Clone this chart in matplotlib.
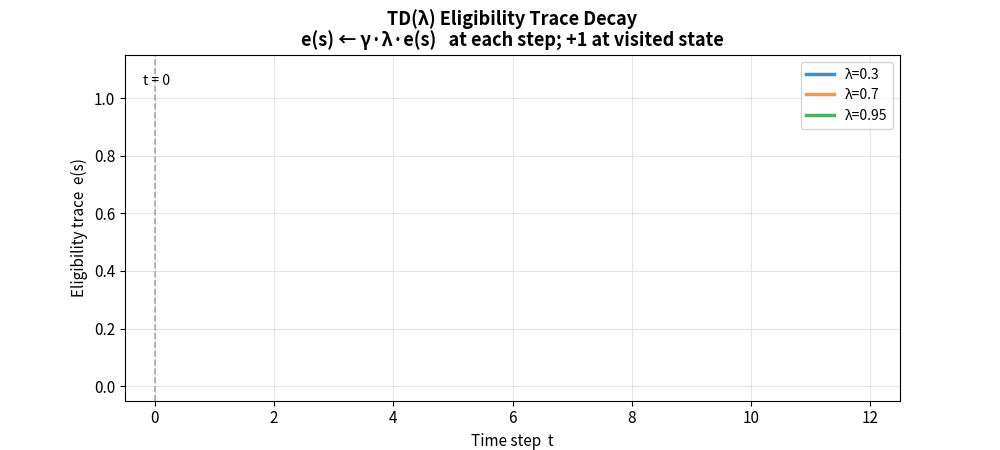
import matplotlib
matplotlib.use('Agg')
import matplotlib.pyplot as plt

plt.rcParams['font.family'] = ['Noto Sans CJK JP', 'DejaVu Sans']

# lambda values shown in the legend; the traces themselves are empty in the reference
lambdas = [0.3, 0.7, 0.95]
colors = ['#3a87c9', '#ee9548', '#47ac5c']
steps = []
traces = [[], [], []]

fig, ax = plt.subplots(figsize=(10, 4.5), dpi=100)
for lam, col, tr in zip(lambdas, colors, traces):
    ax.plot(steps, tr, color=col, lw=2.5, label=f'λ={lam}', alpha=0.95)

ax.axvline(0, color='#aaaaaa', ls='--', lw=1.2)
ax.text(-0.2, 1.06, 't = 0', fontsize=10, va='center')

ax.set_xlim(-0.5, 12.5)
ax.set_ylim(-0.05, 1.15)
ax.set_xticks(range(0, 13, 2))
ax.set_yticks([0, 0.2, 0.4, 0.6, 0.8, 1.0])
ax.tick_params(labelsize=11)
ax.grid(True, color='#e5e5e5', lw=0.8)
ax.set_xlabel('Time step  t', fontsize=11)
ax.set_ylabel('Eligibility trace  e(s)', fontsize=11)
ax.set_title('TD(λ) Eligibility Trace Decay\ne(s) ← γ·λ·e(s)   at each step; +1 at visited state',
             fontsize=13, fontweight='bold', linespacing=1.1)
ax.legend(loc='upper right', fontsize=10)

plt.subplots_adjust(left=0.125, right=0.9, top=0.878, bottom=0.11)
plt.savefig('out.png')
